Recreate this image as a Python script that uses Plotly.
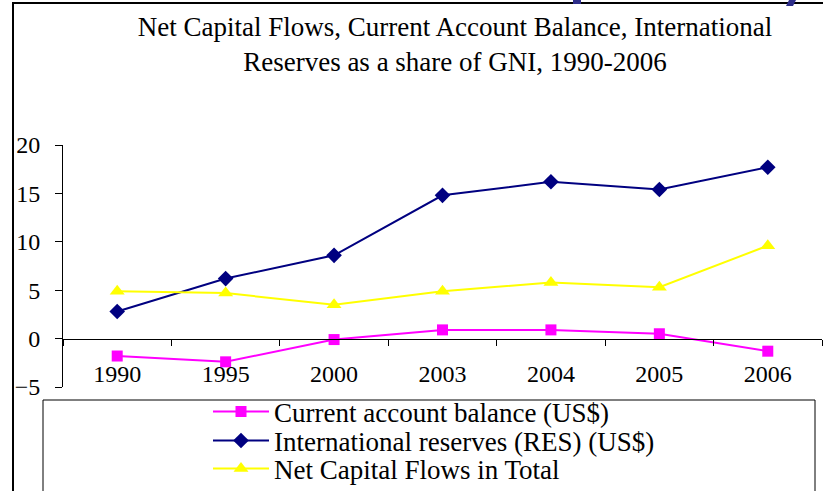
import plotly.graph_objs as go

# chart data
years = ['1990', '1995', '2000', '2003', '2004', '2005', '2006']
current_account = [-1.8, -2.4, -0.1, 0.9, 0.9, 0.5, -1.3]
intl_reserves = [2.8, 6.2, 8.6, 14.8, 16.2, 15.4, 17.7]
net_capital_flows = [4.9, 4.7, 3.5, 4.9, 5.8, 5.3, 9.6]

series_names = ['Current account balance (US$)',
                'International reserves (RES) (US$)',
                'Net Capital Flows in Total']
title_text = ('Net Capital Flows, Current Account Balance, International'
              '<br>Reserves as a share of GNI, 1990-2006')

W, H = 823, 491
L, R, T, B = 63, 1, 145, 104
FONT = '"Liberation Serif", "Times New Roman", serif'


def px_x(px):
    # pixel -> paper x
    return (px - L) / (W - L - R)


def px_y(py):
    # pixel -> paper y
    return (H - B - py) / (H - T - B)


fig = go.Figure()

styles = [
    dict(color='#FF00FF', symbol='square', size=11),
    dict(color='#000080', symbol='diamond', size=12),
    dict(color='#FFFF00', symbol='triangle-up', size=13),
]
values = [current_account, intl_reserves, net_capital_flows]
legends = ['legend', 'legend2', 'legend3']

for name, vals, st, lg in zip(series_names, values, styles, legends):
    fig.add_trace(go.Scatter(x=years, y=vals, name=name, mode='lines+markers',
                             line=dict(color=st['color'], width=2),
                             marker=dict(color=st['color'], symbol=st['symbol'],
                                         size=st['size']),
                             legend=lg))

# one legend per row so the rows can sit as tight as in the original
leg_common = dict(x=px_x(208), xanchor='left', yanchor='middle',
                  bgcolor='rgba(0,0,0,0)', borderwidth=0, itemwidth=56,
                  font=dict(family=FONT, size=27, color='black'))
fig.update_layout(
    legend=dict(y=px_y(412), **leg_common),
    legend2=dict(y=px_y(441), **leg_common),
    legend3=dict(y=px_y(469), **leg_common),
)

fig.update_xaxes(type='category', range=[-0.5, 6.5],
                 anchor='free', position=0.2,
                 showline=True, linecolor='black', linewidth=1,
                 ticks='outside', tickson='boundaries', ticklen=6,
                 tickcolor='black', showgrid=False, zeroline=False,
                 ticklabelstandoff=14,
                 tickfont=dict(family=FONT, size=24, color='black'))

fig.update_yaxes(range=[-5, 20], dtick=5, tick0=0,
                 showline=True, linecolor='black', linewidth=1,
                 ticks='outside', ticklen=7, tickcolor='black',
                 showgrid=False, zeroline=False,
                 ticklabelstandoff=10,
                 tickfont=dict(family=FONT, size=24, color='black'))

shapes = [
    # outer frame
    dict(type='rect', xref='paper', yref='paper',
         x0=px_x(13), x1=px_x(830), y0=px_y(500), y1=px_y(3),
         line=dict(color='black', width=2), layer='below'),
    # legend box
    dict(type='rect', xref='paper', yref='paper',
         x0=px_x(43), x1=px_x(815), y0=px_y(500), y1=px_y(400),
         line=dict(color='black', width=1), layer='below'),
    # bits of the slide header peeking in at the top
    dict(type='rect', xref='paper', yref='paper',
         x0=px_x(573), x1=px_x(581), y0=px_y(4), y1=px_y(-2),
         line=dict(width=0), fillcolor='#2E2E8A'),
    dict(type='path', xref='paper', yref='paper',
         path='M {} {} L {} {} L {} {} L {} {} Z'.format(
             px_x(786), px_y(6), px_x(793), px_y(6),
             px_x(797), px_y(-2), px_x(790), px_y(-2)),
         line=dict(width=0), fillcolor='#2E2E8A'),
]

fig.update_layout(
    width=W, height=H,
    margin=dict(l=L, r=R, t=T, b=B, autoexpand=False),
    plot_bgcolor='white', paper_bgcolor='white',
    font=dict(family=FONT, color='black'),
    showlegend=True,
    shapes=shapes,
    title=dict(text=title_text, x=455 / W, xanchor='center',
               y=1 - 36 / H, yanchor='middle',
               font=dict(family=FONT, size=27, color='black')),
)

# page body margin would shift the chart by 8px
fig.write_html('out.html', config={'displayModeBar': False},
               post_script="document.body.style.margin='0';"
                           "document.body.style.overflow='hidden';")
